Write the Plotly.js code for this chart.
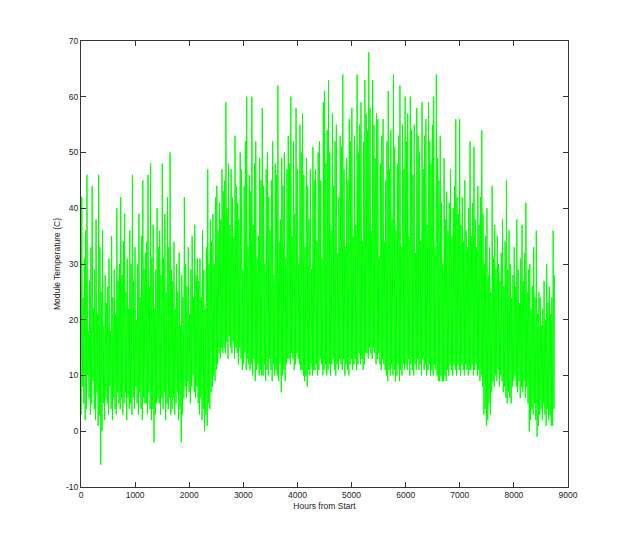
<!DOCTYPE html>
<html>
<head>
<meta charset="utf-8">
<script src="https://cdn.plot.ly/plotly-3.0.1.min.js"></script>
<style>html,body{margin:0;padding:0;background:#fff;}#chart{width:624px;height:548px;}</style>
</head>
<body>
<div id="chart"></div>
<script>
// Daily minimum (night) module temperature, deg C, one value per day (365 days)
const dailyLow = [
  3, 8, 5, 2, 4, 10, 6, 3, 5, 9,
  4, 2, 7, 1, 3, -6, 0, 5, 2, 6,
  5, 3, 8, 4, 2, 6, 4, 3, 7, 5,
  4, 6, 3, 5, 7, 2, 6, 4, 5, 3,
  6, 4, 8, 5, 3, 7, 4, 2, 6, 5,
  5, 3, 7, 4, 2, 4, -2, 3, 5, 6,
  5, 3, 6, 4, 7, 2, 5, 4, 6, 3,
  4, 6, 3, 5, 7, 2, 4, -2, 3, 6,
  8, 6, 9, 7, 5, 8, 10, 7, 6, 8,
  5, 3, 6, 2, 4, 0, 3, 1, 5, 4,
  7, 8, 10, 9, 11, 12, 14, 13, 15, 14,
  15, 14, 16, 13, 17, 15, 14, 16, 13, 15,
  14, 12, 15, 13, 11, 12, 14, 11, 13, 12,
  11, 12, 10, 13, 9, 11, 12, 10, 11, 10,
  10, 12, 9, 11, 10, 13, 11, 9, 12, 10,
  11, 10, 9, 12, 7, 10, 11, 9, 12, 13,
  13, 12, 14, 13, 11, 12, 14, 13, 12, 11,
  11, 10, 9, 10, 8, 11, 10, 12, 10, 11,
  11, 12, 10, 11, 13, 12, 10, 11, 12, 10,
  11, 12, 10, 12, 13, 11, 10, 12, 11, 13,
  12, 11, 13, 10, 12, 11, 10, 12, 13, 11,
  12, 13, 11, 12, 14, 12, 13, 11, 12, 14,
  14, 13, 15, 14, 13, 15, 14, 12, 13, 14,
  12, 11, 13, 12, 11, 10, 9, 11, 10, 12,
  10, 11, 9, 10, 12, 9, 11, 10, 12, 11,
  12, 11, 13, 10, 12, 11, 10, 12, 11, 13,
  11, 12, 10, 13, 11, 12, 10, 11, 12, 10,
  11, 10, 12, 11, 10, 9, 9, 10, 9, 9,
  10, 9, 11, 10, 12, 11, 10, 12, 11, 10,
  12, 11, 10, 12, 11, 10, 12, 11, 10, 11,
  11, 12, 10, 11, 12, 10, 11, 9, 10, 8,
  3, 4, 1, 2, 5, 3, 7, 9, 8, 10,
  9, 11, 8, 10, 9, 7, 8, 6, 5, 7,
  6, 5, 8, 9, 10, 8, 7, 9, 6, 8,
  7, 9, 6, 8, 5, 0, 2, 4, 3, 5,
  2, -1, 1, 3, 4, 2, 5, 3, 1, 4,
  2, 3, 1, 1, 4
];
// Daily maximum (afternoon) module temperature, deg C, one value per day
const dailyHigh = [
  42, 24, 31, 36, 46, 18, 27, 33, 44, 22,
  29, 38, 21, 46, 33, 25, 36, 19, 28, 23,
  26, 31, 18, 35, 24, 29, 21, 40, 27, 30,
  42, 28, 34, 39, 25, 31, 22, 36, 30, 46,
  27, 33, 20, 30, 39, 24, 35, 45, 29, 32,
  34, 46, 26, 48, 31, 37, 22, 29, 40, 33,
  36, 28, 48, 31, 39, 25, 42, 33, 50, 29,
  27, 34, 22, 30, 25, 32, 19, 28, 24, 42,
  30, 26, 33, 21, 29, 35, 24, 37, 28, 31,
  27, 31, 24, 36, 29, 22, 33, 47, 30, 38,
  34, 39, 30, 42, 44, 36, 41, 38, 47, 43,
  45, 59, 40, 48, 37, 47, 42, 35, 53, 44,
  41, 38, 50, 47, 29, 44, 52, 60, 33, 46,
  43, 60, 37, 48, 52, 31, 35, 49, 45, 58,
  44, 30, 47, 50, 42, 36, 45, 52, 28, 48,
  46, 62, 34, 38, 49, 44, 50, 31, 47, 53,
  48, 60, 35, 52, 39, 58, 47, 30, 55, 50,
  57, 46, 33, 49, 44, 38, 47, 29, 51, 45,
  47, 34, 50, 52, 45, 31, 59, 61, 48, 54,
  63, 50, 36, 57, 44, 52, 55, 32, 42, 53,
  51, 64, 47, 33, 49, 45, 56, 52, 58, 35,
  53, 37, 64, 50, 55, 59, 34, 52, 63, 57,
  54, 68, 58, 36, 63, 55, 49, 57, 56, 31,
  48, 53, 56, 34, 45, 52, 61, 47, 54, 38,
  64, 51, 36, 48, 53, 62, 33, 55, 47, 60,
  52, 57, 35, 60, 54, 46, 55, 32, 58, 53,
  50, 34, 59, 47, 53, 56, 37, 59, 52, 48,
  55, 60, 33, 64, 49, 45, 53, 41, 30, 49,
  38, 43, 36, 41, 47, 35, 40, 44, 56, 42,
  39, 56, 37, 42, 34, 45, 36, 33, 40, 52,
  35, 41, 51, 38, 33, 44, 37, 42, 54, 39,
  30, 35, 40, 28, 33, 25, 44, 31, 37, 29,
  35, 30, 27, 32, 38, 26, 34, 45, 29, 36,
  30, 24, 28, 33, 26, 38, 29, 23, 31, 37,
  27, 32, 41, 25, 29, 30, 22, 26, 33, 24,
  36, 21, 25, 24, 19, 22, 27, 20, 30, 23,
  26, 21, 24, 36, 28
];
const lowHourOfDay = 5;   // hour of day of the minimum reading
const highHourOfDay = 14; // hour of day of the maximum reading
const xTicks = [0, 1000, 2000, 3000, 4000, 5000, 6000, 7000, 8000, 9000];
const yTicks = [-10, 0, 10, 20, 30, 40, 50, 60, 70];

const hours = [], temps = [];
for (let d = 0; d < dailyLow.length; d++) {
  hours.push(d * 24 + lowHourOfDay);  temps.push(dailyLow[d]);
  hours.push(d * 24 + highHourOfDay); temps.push(dailyHigh[d]);
}

const font = {family: '"Liberation Sans", Arial, Helvetica, sans-serif', size: 8.5, color: '#222'};
const axisCommon = {
  showgrid: false, zeroline: false, showline: true, mirror: 'ticks',
  linecolor: '#333', linewidth: 1, ticks: 'inside', ticklen: 5, tickcolor: '#333',
  tickfont: font
};

Plotly.newPlot('chart', [{
  x: hours, y: temps, type: 'scatter', mode: 'lines',
  line: {color: '#00ff00', width: 1}, hoverinfo: 'skip'
}], {
  width: 624, height: 548,
  margin: {l: 81, r: 56, t: 41, b: 61},
  paper_bgcolor: '#fff', plot_bgcolor: '#fff',
  showlegend: false,
  font: font,
  xaxis: Object.assign({}, axisCommon, {
    range: [0, 9000], tickvals: xTicks, ticktext: xTicks.map(String),
    title: {text: 'Hours from Start', font: font, standoff: 3}
  }),
  yaxis: Object.assign({}, axisCommon, {
    range: [-10, 70], tickvals: yTicks, ticktext: yTicks.map(String),
    title: {text: 'Module Temperature (C)', font: font, standoff: 4}
  })
}, {staticPlot: true, displayModeBar: false});
</script>
</body>
</html>
